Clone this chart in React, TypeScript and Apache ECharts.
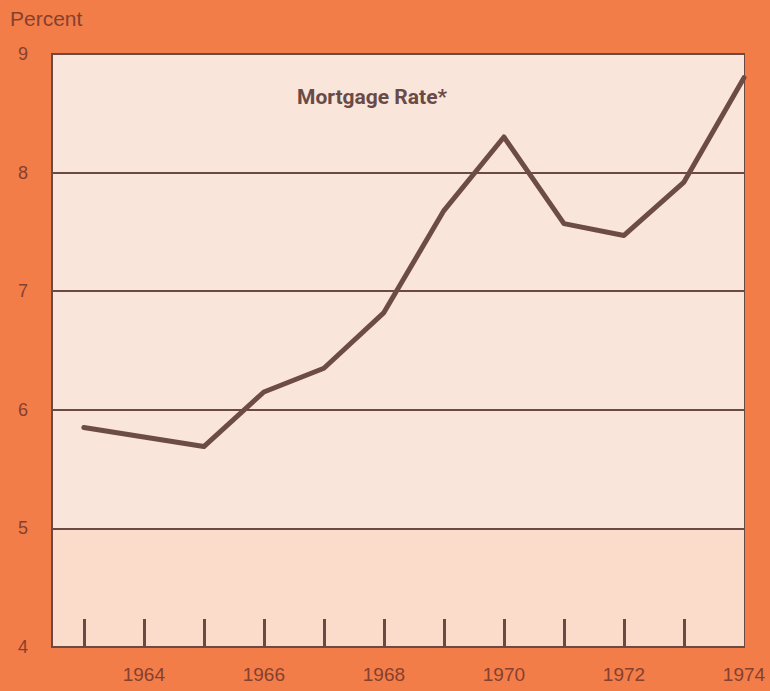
import React, { useEffect, useRef } from "react";
import * as echarts from "echarts";

const years = [1963, 1964, 1965, 1966, 1967, 1968, 1969, 1970, 1971, 1972, 1973, 1974];
const mortgageRate = [5.85, 5.77, 5.69, 6.15, 6.35, 6.82, 7.68, 8.3, 7.57, 7.47, 7.92, 8.8];
const tickYears = [1963, 1964, 1965, 1966, 1967, 1968, 1969, 1970, 1971, 1972, 1973];
const labelYears = [1964, 1966, 1968, 1970, 1972, 1974];

export default function App() {
  const ref = useRef<HTMLDivElement>(null);
  useEffect(() => {
    if (!ref.current) return;
    const chart = echarts.init(ref.current, null, { renderer: "svg" });
    const dark = "#6b4a44";
    const labelColor = "#86402f";
    chart.setOption({
      animation: false,
      backgroundColor: "#F37D48",
      title: {
        text: "Mortgage Rate*",
        left: 292,
        top: 81,
        textStyle: {
          color: "#6a4a46",
          fontSize: 21,
          fontWeight: "bold",
          fontFamily: "Roboto",
        },
      },
      graphic: [
        {
          type: "text",
          left: 10,
          top: 8,
          style: {
            text: "Percent",
            fill: labelColor,
            fontSize: 21,
            fontFamily: "Liberation Sans",
          },
        },
      ],
      grid: {
        left: 52,
        right: 26,
        top: 54,
        bottom: 44,
        show: true,
        backgroundColor: "#F9E5DA",
        borderColor: dark,
        borderWidth: 2,
      },
      xAxis: {
        type: "value",
        min: 1962.47,
        max: 1974,
        axisLine: { show: true, lineStyle: { color: dark, width: 2 } },
        splitLine: { show: false },
        axisTick: {
          show: true,
          inside: true,
          length: 28,
          customValues: tickYears,
          lineStyle: { color: dark, width: 3 },
        },
        axisLabel: {
          customValues: labelYears,
          color: labelColor,
          fontSize: 19,
          fontFamily: "Liberation Sans",
          margin: 18,
          formatter: (v: number) => String(v),
        },
      },
      yAxis: {
        type: "value",
        min: 4,
        max: 9,
        interval: 1,
        axisLine: { show: true, lineStyle: { color: dark, width: 2 } },
        axisTick: { show: false },
        axisLabel: {
          color: labelColor,
          fontSize: 18,
          fontFamily: "Liberation Sans",
          margin: 24,
        },
        splitLine: { show: true, lineStyle: { color: dark, width: 2 } },
        splitArea: {
          show: true,
          areaStyle: {
            color: ["#FBDCCB", "#F9E5DA", "#F9E5DA", "#F9E5DA", "#F9E5DA"],
          },
        },
      },
      series: [
        {
          type: "line",
          data: years.map((y, i) => [y, mortgageRate[i]]),
          showSymbol: false,
          lineStyle: { color: "#6e4c46", width: 5, join: "round", cap: "round" },
        },
      ],
    });
    return () => chart.dispose();
  }, []);
  return (
    <div
      ref={ref}
      style={{ position: "absolute", left: 0, top: 0, width: 770, height: 691 }}
    />
  );
}
